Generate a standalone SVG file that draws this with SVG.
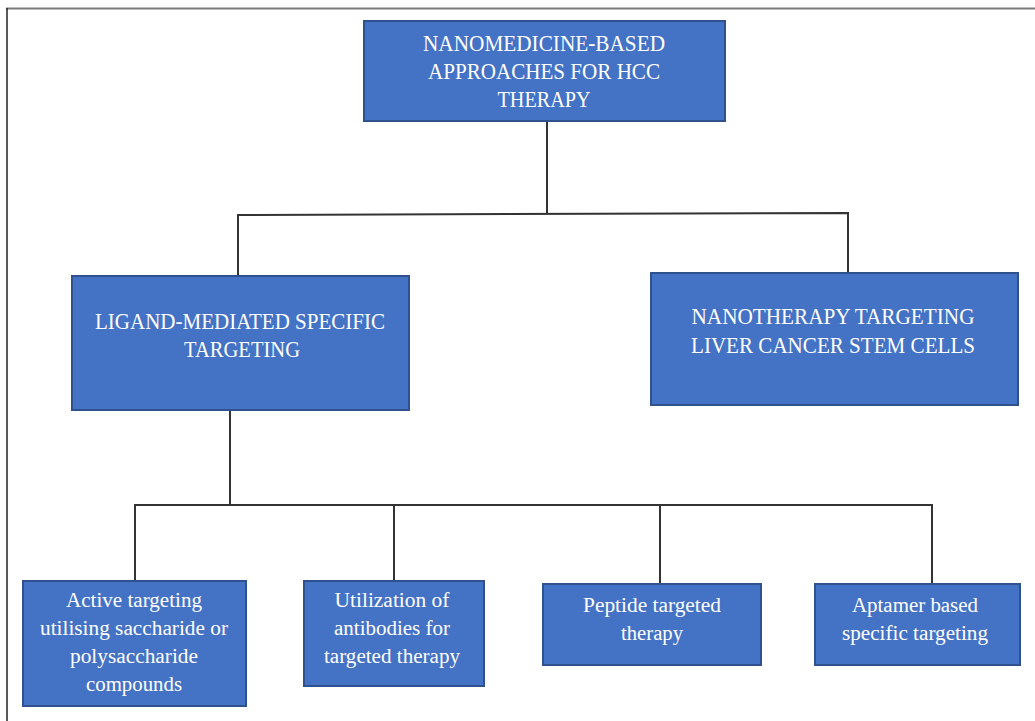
<svg xmlns="http://www.w3.org/2000/svg" width="1035" height="721" viewBox="0 0 1035 721">
<style>
.box{fill:#4472C4;stroke:#2F528F;stroke-width:2}
.t{font-family:'Liberation Serif','DejaVu Serif',serif;fill:#ffffff;text-anchor:middle}
.big{font-size:24px}
.mid{font-size:23px}
.sm{font-size:20px}
.c{fill:none;stroke:#333333;stroke-width:2}
</style>
<rect x="0" y="0" width="1035" height="721" fill="#ffffff"/>
<line x1="6" y1="8.5" x2="1035" y2="8.5" stroke="#7a7a7a" stroke-width="2"/>
<line x1="7" y1="8" x2="7" y2="721" stroke="#222222" stroke-width="1.5"/>
<g id="connectors">
<polyline class="c" points="547,121 547,213"/>
<polyline class="c" points="238,275 238,215 848,213 848,273"/>
<polyline class="c" points="230,410 230,505"/>
<polyline class="c" points="135,580 135,505 932,505 932,584"/>
<polyline class="c" points="394,505 394,580"/>
<polyline class="c" points="660,505 660,584"/>
</g>
<g id="root">
<rect class="box" x="364" y="21" width="361" height="100"/>
<text class="t big" x="544" y="51" textLength="242" lengthAdjust="spacingAndGlyphs">NANOMEDICINE-BASED</text>
<text class="t big" x="544" y="79" textLength="232" lengthAdjust="spacingAndGlyphs">APPROACHES FOR HCC</text>
<text class="t big" x="544" y="107" textLength="93" lengthAdjust="spacingAndGlyphs">THERAPY</text>
</g>
<g id="ligand">
<rect class="box" x="72" y="276" width="337" height="134"/>
<text class="t mid" x="240" y="329" textLength="290" lengthAdjust="spacingAndGlyphs">LIGAND-MEDIATED SPECIFIC</text>
<text class="t mid" x="242" y="357" textLength="116" lengthAdjust="spacingAndGlyphs">TARGETING</text>
</g>
<g id="nanotherapy">
<rect class="box" x="651" y="273" width="367" height="132"/>
<text class="t mid" x="833" y="324" textLength="283" lengthAdjust="spacingAndGlyphs">NANOTHERAPY TARGETING</text>
<text class="t mid" x="833" y="353" textLength="284" lengthAdjust="spacingAndGlyphs">LIVER CANCER STEM CELLS</text>
</g>
<g id="active">
<rect class="box" x="23" y="581" width="223" height="125"/>
<text class="t sm" x="134" y="607" textLength="136" lengthAdjust="spacingAndGlyphs">Active targeting</text>
<text class="t sm" x="134" y="635" textLength="188" lengthAdjust="spacingAndGlyphs">utilising saccharide or</text>
<text class="t sm" x="134" y="663" textLength="128" lengthAdjust="spacingAndGlyphs">polysaccharide</text>
<text class="t sm" x="134" y="691" textLength="96" lengthAdjust="spacingAndGlyphs">compounds</text>
</g>
<g id="antibodies">
<rect class="box" x="304" y="581" width="180" height="105"/>
<text class="t sm" x="392" y="607" textLength="115" lengthAdjust="spacingAndGlyphs">Utilization of</text>
<text class="t sm" x="392" y="635" textLength="116" lengthAdjust="spacingAndGlyphs">antibodies for</text>
<text class="t sm" x="392" y="663" textLength="136" lengthAdjust="spacingAndGlyphs">targeted therapy</text>
</g>
<g id="peptide">
<rect class="box" x="543" y="584" width="218" height="81"/>
<text class="t sm" x="652" y="612" textLength="138" lengthAdjust="spacingAndGlyphs">Peptide targeted</text>
<text class="t sm" x="652" y="640" textLength="62" lengthAdjust="spacingAndGlyphs">therapy</text>
</g>
<g id="aptamer">
<rect class="box" x="815" y="584" width="205" height="81"/>
<text class="t sm" x="915" y="612" textLength="126" lengthAdjust="spacingAndGlyphs">Aptamer based</text>
<text class="t sm" x="915" y="640" textLength="146" lengthAdjust="spacingAndGlyphs">specific targeting</text>
</g>
</svg>
